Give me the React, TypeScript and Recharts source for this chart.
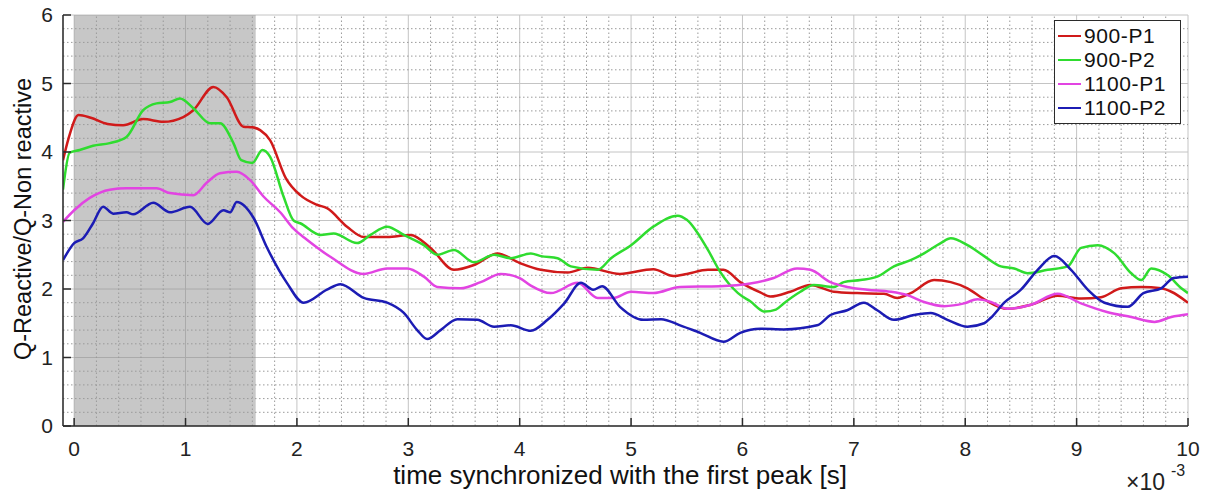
import {
  CartesianGrid,
  Legend,
  Line,
  LineChart,
  ReferenceArea,
  ReferenceLine,
  XAxis,
  YAxis
} from 'recharts';

// time axis (x 10^-3 s) and Q ratio
const t900P1 = [-0.1, -0.05, 0.04, 0.15, 0.3, 0.44, 0.62, 0.8, 0.98, 1.07, 1.25, 1.37, 1.52, 1.6, 1.67, 1.76, 1.9, 2.03, 2.18, 2.27, 2.45, 2.6, 2.81, 3.02, 3.2, 3.41, 3.59, 3.8, 4.0, 4.19, 4.43, 4.61, 4.9, 5.2, 5.38, 5.5, 5.69, 5.83, 5.98, 6.16, 6.25, 6.43, 6.61, 6.82, 7.03, 7.27, 7.39, 7.51, 7.72, 7.87, 8.02, 8.17, 8.38, 8.59, 8.83, 9.04, 9.22, 9.4, 9.58, 9.76, 9.85, 10.0];
const q900P1 = [3.88, 4.2, 4.54, 4.5, 4.41, 4.39, 4.48, 4.44, 4.51, 4.61, 4.95, 4.8, 4.37, 4.36, 4.32, 4.17, 3.62, 3.37, 3.23, 3.18, 2.91, 2.76, 2.76, 2.79, 2.6, 2.28, 2.35, 2.52, 2.38, 2.28, 2.24, 2.31, 2.22, 2.29, 2.19, 2.22, 2.28, 2.28, 2.1, 1.95, 1.89, 1.96, 2.06, 1.96, 1.94, 1.93, 1.87, 1.94, 2.13, 2.1, 2.01, 1.85, 1.71, 1.77, 1.9, 1.86, 1.88, 2.01, 2.03, 2.01, 1.96, 1.8];

const t900P2 = [-0.1, -0.04, 0.05, 0.17, 0.32, 0.47, 0.62, 0.74, 0.86, 0.95, 1.07, 1.22, 1.31, 1.43, 1.5, 1.6, 1.69, 1.76, 1.88, 1.97, 2.03, 2.21, 2.33, 2.54, 2.66, 2.81, 2.96, 3.14, 3.26, 3.41, 3.59, 3.77, 3.92, 4.1, 4.19, 4.34, 4.46, 4.7, 4.82, 5.0, 5.2, 5.42, 5.5, 5.69, 5.8, 5.96, 6.07, 6.2, 6.3, 6.37, 6.52, 6.64, 6.82, 6.91, 7.06, 7.21, 7.36, 7.51, 7.63, 7.78, 7.87, 8.02, 8.17, 8.32, 8.44, 8.56, 8.74, 8.92, 9.04, 9.19, 9.34, 9.49, 9.58, 9.67, 9.82, 9.94, 10.0];
const q900P2 = [3.45, 3.99, 4.03, 4.09, 4.13, 4.22, 4.61, 4.71, 4.73, 4.78, 4.64, 4.42, 4.42, 4.13, 3.88, 3.84, 4.03, 3.93, 3.35, 3.0, 2.96, 2.79, 2.81, 2.67, 2.79, 2.91, 2.79, 2.64, 2.5, 2.57, 2.39, 2.5, 2.45, 2.52, 2.48, 2.45, 2.33, 2.28, 2.45, 2.64, 2.91, 3.07, 3.01, 2.57, 2.25, 1.94, 1.82, 1.67, 1.7, 1.79, 1.96, 2.06, 2.03, 2.1, 2.13, 2.18, 2.33, 2.42, 2.52, 2.67, 2.74, 2.64, 2.48, 2.33, 2.3, 2.23, 2.28, 2.33, 2.6, 2.64, 2.52, 2.23, 2.13, 2.3, 2.2, 2.01, 1.94];

const t1100P1 = [-0.1, 0.0, 0.14, 0.32, 0.47, 0.74, 0.86, 1.07, 1.19, 1.31, 1.46, 1.58, 1.7, 1.85, 1.97, 2.09, 2.3, 2.6, 2.81, 2.99, 3.14, 3.26, 3.47, 3.65, 3.83, 4.0, 4.1, 4.28, 4.52, 4.7, 4.84, 5.0, 5.2, 5.44, 5.8, 6.07, 6.28, 6.49, 6.61, 6.79, 6.94, 7.12, 7.33, 7.48, 7.63, 7.81, 7.99, 8.11, 8.23, 8.38, 8.59, 8.83, 9.04, 9.28, 9.49, 9.7, 9.85, 10.0];
const q1100P1 = [2.98, 3.15, 3.33, 3.45, 3.47, 3.47, 3.4, 3.37, 3.55, 3.69, 3.71, 3.59, 3.35, 3.12, 2.88, 2.72, 2.47, 2.22, 2.3, 2.3, 2.18, 2.03, 2.01, 2.1, 2.22, 2.16, 2.05, 1.94, 2.09, 1.87, 1.87, 1.96, 1.94, 2.03, 2.04, 2.08, 2.16, 2.3, 2.28, 2.1, 2.03, 1.99, 1.96, 1.91, 1.81, 1.75, 1.79, 1.85, 1.81, 1.71, 1.77, 1.93, 1.79, 1.66, 1.59, 1.52, 1.59, 1.63];

const t1100P2 = [-0.1, 0.0, 0.08, 0.17, 0.26, 0.35, 0.47, 0.53, 0.71, 0.86, 1.04, 1.2, 1.34, 1.4, 1.46, 1.61, 1.73, 1.91, 2.06, 2.27, 2.39, 2.6, 2.81, 2.96, 3.08, 3.17, 3.29, 3.44, 3.62, 3.77, 3.92, 4.1, 4.25, 4.4, 4.55, 4.66, 4.74, 4.9, 5.11, 5.27, 5.44, 5.62, 5.83, 5.98, 6.16, 6.37, 6.67, 6.79, 6.94, 7.09, 7.21, 7.36, 7.54, 7.69, 7.84, 8.02, 8.17, 8.23, 8.35, 8.5, 8.65, 8.8, 8.95, 9.1, 9.25, 9.46, 9.6, 9.76, 9.87, 10.0];
const q1100P2 = [2.42, 2.67, 2.74, 2.96, 3.2, 3.1, 3.12, 3.09, 3.26, 3.12, 3.2, 2.95, 3.15, 3.12, 3.27, 3.04, 2.61, 2.09, 1.8, 1.99, 2.07, 1.87, 1.8, 1.65, 1.4, 1.27, 1.4, 1.56, 1.55, 1.45, 1.47, 1.39, 1.55, 1.79, 2.09, 1.99, 2.04, 1.74, 1.55, 1.56, 1.47, 1.36, 1.23, 1.36, 1.42, 1.41, 1.47, 1.62, 1.69, 1.8, 1.69, 1.55, 1.62, 1.65, 1.55, 1.45, 1.5, 1.58, 1.8, 1.99, 2.28, 2.48, 2.28, 1.99, 1.8, 1.74, 1.94, 2.01, 2.16, 2.18];

const seriesNames = ['900-P1', '900-P2', '1100-P1', '1100-P2'];
const seriesColors = ['#d01a1a', '#2fdc2f', '#e244e2', '#1c1cb4'];

const xTicks = [0, 1, 2, 3, 4, 5, 6, 7, 8, 9, 10];
const yTicks = [0, 1, 2, 3, 4, 5, 6];
const shadedSpan = [0, 1.63];

const FONT = '"Liberation Sans", Arial, Helvetica, sans-serif';
const AXIS = '#2b2b2b';

// dotted minor grid every 0.2
const minorX = xTicks.slice(0, -1).flatMap((v) => [0.2, 0.4, 0.6, 0.8].map((d) => +(v + d).toFixed(1)));
const minorY = yTicks.slice(0, -1).flatMap((v) => [0.2, 0.4, 0.6, 0.8].map((d) => +(v + d).toFixed(1)));

const seriesData = [
  t900P1.map((t, i) => ({ t, q: q900P1[i] })),
  t900P2.map((t, i) => ({ t, q: q900P2[i] })),
  t1100P1.map((t, i) => ({ t, q: q1100P1[i] })),
  t1100P2.map((t, i) => ({ t, q: q1100P2[i] }))
];

function LegendBox({ payload }: any) {
  const items = [...(payload || [])].sort(
    (a: any, b: any) => seriesNames.indexOf(a.value) - seriesNames.indexOf(b.value)
  );
  return (
    <div
      style={{
        border: `1.5px solid ${AXIS}`,
        background: '#fff',
        padding: '3px 0',
        width: 127,
        boxSizing: 'border-box',
        fontFamily: FONT,
        fontSize: 21,
        letterSpacing: 0.6,
        color: '#111'
      }}
    >
      {items.map((p: any) => (
        <div key={p.value} style={{ display: 'flex', alignItems: 'center', height: 24 }}>
          <span style={{ width: 23, borderTop: `2.5px solid ${p.color}`, margin: '0 3px 0 3px' }} />
          <span>{p.value}</span>
        </div>
      ))}
    </div>
  );
}

export default function App() {
  return (
    <div style={{ position: 'absolute', left: 0, top: 0, width: 1209, height: 497, background: '#fff' }}>
      <LineChart width={1209} height={497} margin={{ top: 15, right: 21, bottom: 0, left: 0 }}>
        <CartesianGrid stroke="#c4c4c4" strokeWidth={1} />
        {minorX.map((v) => (
          <ReferenceLine key={'mx' + v} x={v} stroke="#9a9a9a" strokeWidth={1} strokeDasharray="1.5 2.5" />
        ))}
        {minorY.map((v) => (
          <ReferenceLine key={'my' + v} y={v} stroke="#9a9a9a" strokeWidth={1} strokeDasharray="1.5 2.5" />
        ))}
        <ReferenceArea x1={shadedSpan[0]} x2={shadedSpan[1]} fill="#8f8f8f" fillOpacity={0.5} stroke="none" />
        <XAxis
          dataKey="t"
          type="number"
          domain={[-0.1, 10]}
          allowDataOverflow
          ticks={xTicks}
          height={71}
          stroke={AXIS}
          strokeWidth={1.5}
          tickSize={-8}
          tickMargin={23}
          tick={{ fontSize: 21, fill: '#222', fontFamily: FONT }}
        />
        <XAxis
          xAxisId="top"
          orientation="top"
          type="number"
          domain={[-0.1, 10]}
          allowDataOverflow
          ticks={xTicks}
          height={0}
          stroke={AXIS}
          strokeWidth={1.5}
          tickSize={-8}
          tick={false}
        />
        <YAxis
          type="number"
          domain={[0, 6]}
          ticks={yTicks}
          width={63}
          stroke={AXIS}
          strokeWidth={1.5}
          tickSize={-8}
          tickMargin={18}
          tick={{ fontSize: 21, fill: '#222', fontFamily: FONT }}
        />
        <YAxis
          yAxisId="right"
          orientation="right"
          type="number"
          domain={[0, 6]}
          ticks={yTicks}
          width={0}
          stroke={AXIS}
          strokeWidth={1.5}
          tickSize={-8}
          tick={false}
        />
        {seriesData.map((d, i) => (
          <Line
            key={seriesNames[i]}
            data={d}
            dataKey="q"
            name={seriesNames[i]}
            type="monotone"
            stroke={seriesColors[i]}
            strokeWidth={2.5}
            dot={false}
            isAnimationActive={false}
          />
        ))}
        <Legend
          layout="vertical"
          align="center"
          verticalAlign="middle"
          content={<LegendBox />}
          wrapperStyle={{ position: 'absolute', left: 1054, top: 20, width: 127 }}
        />
      </LineChart>
      <svg
        width={1209}
        height={497}
        style={{ position: 'absolute', left: 0, top: 0, pointerEvents: 'none' }}
      >
        <text x={620} y={484} textAnchor="middle" fontFamily={FONT} fontSize={26} fill="#111">
          time synchronized with the first peak [s]
        </text>
        <text
          x={31}
          y={219}
          transform="rotate(-90 31 219)"
          textAnchor="middle"
          fontFamily={FONT}
          fontSize={23.5}
          fill="#111"
        >
          Q-Reactive/Q-Non reactive
        </text>
        <text x={1126} y={490} fontFamily={FONT} fontSize={23} fill="#222">
          ×10
        </text>
        <text x={1171} y={476} fontFamily={FONT} fontSize={16} fill="#222">
          -3
        </text>
      </svg>
    </div>
  );
}
